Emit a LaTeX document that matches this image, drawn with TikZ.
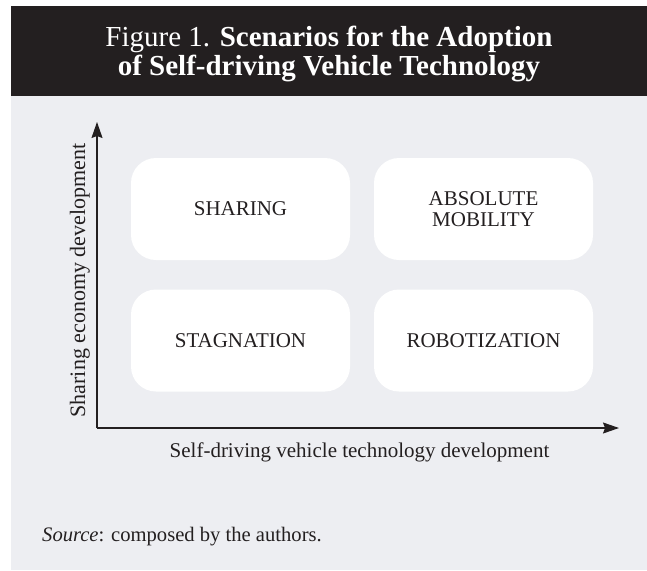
\documentclass[tikz,border=0pt]{standalone}
\usepackage{fontspec}
\setmainfont{Liberation Serif}
\usetikzlibrary{arrows.meta}
\definecolor{hdr}{HTML}{231F20}
\definecolor{bgg}{HTML}{EDEEF2}
\tikzset{
  scen/.style={fill=white, rounded corners=25pt, minimum width=219pt, minimum height=102pt,
    align=center, text=hdr, font=\fontsize{21}{21}\selectfont, inner sep=0pt},
  axis/.style={line width=1.2pt, draw=hdr, -{Stealth[length=16pt,width=11pt,inset=2pt]}},
  lbl/.style={text=hdr, font=\fontsize{21}{23}\selectfont}
}
\begin{document}
\begin{tikzpicture}[x=1pt,y=1pt]
\useasboundingbox (0,0) rectangle (647,-570);
\fill[white] (0,0) rectangle (647,-570);
\fill[hdr] (11,-6) rectangle (647,-96);
\fill[bgg] (11,-96) rectangle (647,-570);
\node[text=white, align=center, anchor=base, font=\fontsize{29}{29}\selectfont] (title) at (329,-75)
  {Figure 1. \textbf{Scenarios for the Adoption}\\ \textbf{of Self-driving Vehicle Technology}};
\node[scen] (sharing) at (240.5,-209) {SHARING};
\node[scen] (absolute) at (483.5,-209) {ABSOLUTE\\MOBILITY};
\node[scen] (stagnation) at (240.5,-340.5) {STAGNATION};
\node[scen] (robot) at (483.5,-340.5) {ROBOTIZATION};
\coordinate (o) at (97,-428);
\coordinate (ytip) at (97,-122);
\coordinate (xtip) at (619,-428);
\draw[axis] (o) -- (ytip);
\draw[axis] (o) -- (xtip);
\node[lbl, anchor=base] (xl) at (359.5,-457) {Self-driving vehicle technology development};
\node[lbl, rotate=90, anchor=base, font=\fontsize{22}{24}\selectfont] (yl) at (85,-280.5) {Sharing economy development};
\node[lbl, anchor=base west, inner sep=0pt, font=\fontsize{20.6}{22}\selectfont] (src) at (42,-541) {\textit{Source}: composed by the authors.};
\end{tikzpicture}
\end{document}
